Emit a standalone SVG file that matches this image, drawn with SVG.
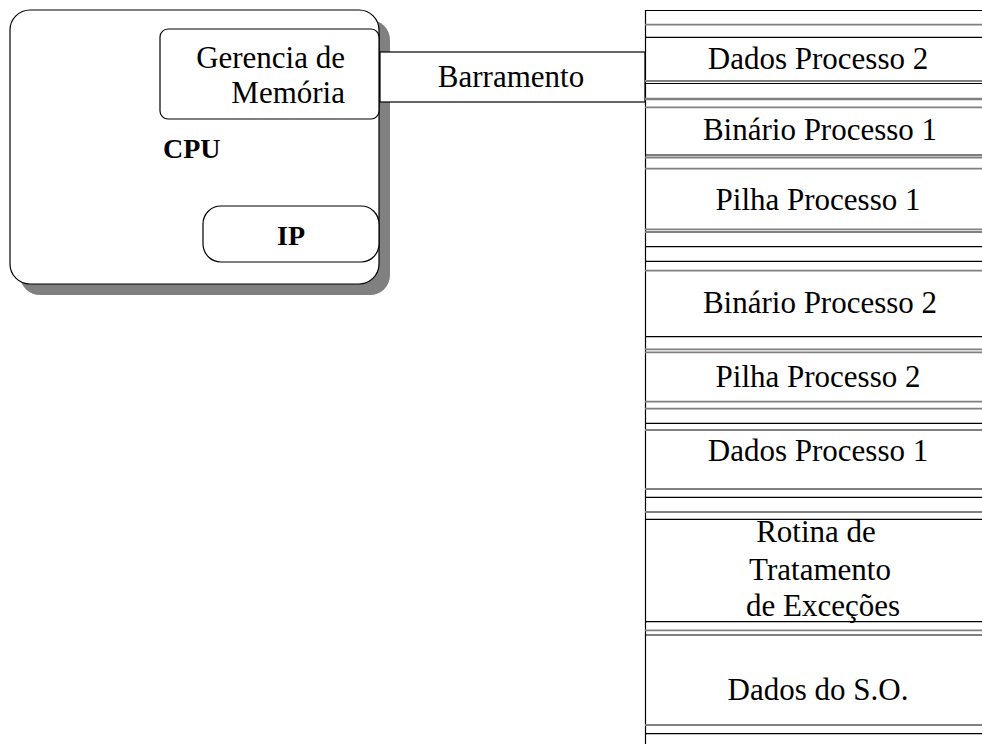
<svg xmlns="http://www.w3.org/2000/svg" width="982" height="744" viewBox="0 0 982 744">
<style>
text{font-family:"Liberation Serif","Times New Roman",serif;font-size:31px;fill:#000}
.b{font-weight:bold;font-size:28px}
.box{fill:#fff;stroke:#000;stroke-width:1.2}
.k{stroke:#000;stroke-width:1.2}
.g{stroke:#808080;stroke-width:1.8}
</style>
<rect width="982" height="744" fill="#fff"/>
<g id="cpu">
<rect x="20" y="20" width="370" height="275" rx="20" fill="#808080"/>
<rect class="box" x="10" y="10" width="369" height="274" rx="20"/>
<text class="b" x="163" y="158">CPU</text>
</g>
<g id="gerencia">
<rect class="box" x="160" y="29" width="219" height="90" rx="8"/>
<text x="345" y="68" text-anchor="end">Gerencia de</text>
<text x="345" y="103" text-anchor="end">Memória</text>
</g>
<g id="ip">
<rect class="box" x="203" y="206" width="176" height="56" rx="18"/>
<text class="b" x="291" y="245" text-anchor="middle">IP</text>
</g>
<g id="connectors">
<g id="barramento">
<rect class="box" x="380" y="52" width="265" height="50"/>
<text x="511" y="87" text-anchor="middle">Barramento</text>
</g>
</g>
<g id="memoria">
<line class="k" x1="645.5" y1="10" x2="645.5" y2="744"/>
<g>
<line class="k" x1="645" y1="10.5" x2="982" y2="10.5"/>
<line class="g" x1="645" y1="24.7" x2="982" y2="24.7"/>
<line class="k" x1="645" y1="37.3" x2="982" y2="37.3"/>
<line class="g" x1="645" y1="81" x2="982" y2="81"/>
<line class="k" x1="645" y1="83.5" x2="982" y2="83.5"/>
<line class="g" x1="645" y1="99" x2="982" y2="99" style="stroke-width:2.4"/>
<line class="g" x1="645" y1="107.3" x2="982" y2="107.3"/>
<line class="k" x1="645" y1="155" x2="982" y2="155"/>
<line class="g" x1="645" y1="157.5" x2="982" y2="157.5"/>
<line class="g" x1="645" y1="168.7" x2="982" y2="168.7"/>
<line class="g" x1="645" y1="229.3" x2="982" y2="229.3"/>
<line class="g" x1="645" y1="232" x2="982" y2="232"/>
<line class="k" x1="645" y1="246.7" x2="982" y2="246.7"/>
<line class="k" x1="645" y1="261.3" x2="982" y2="261.3"/>
<line class="g" x1="645" y1="270.7" x2="982" y2="270.7"/>
<line class="k" x1="645" y1="336.7" x2="982" y2="336.7"/>
<line class="g" x1="645" y1="349.3" x2="982" y2="349.3"/>
<line class="g" x1="645" y1="352.3" x2="982" y2="352.3"/>
<line class="g" x1="645" y1="401.7" x2="982" y2="401.7"/>
<line class="g" x1="645" y1="408.7" x2="982" y2="408.7"/>
<line class="k" x1="645" y1="423.3" x2="982" y2="423.3"/>
<line class="g" x1="645" y1="430" x2="982" y2="430"/>
<line class="g" x1="645" y1="489" x2="982" y2="489"/>
<line class="k" x1="645" y1="497.3" x2="982" y2="497.3"/>
<line class="g" x1="645" y1="512" x2="982" y2="512"/>
<line class="k" x1="645" y1="519.3" x2="982" y2="519.3"/>
<line class="k" x1="645" y1="621.7" x2="982" y2="621.7"/>
<line class="g" x1="645" y1="630.3" x2="982" y2="630.3"/>
<line class="k" x1="645" y1="635" x2="982" y2="635"/>
<line class="g" x1="645" y1="725" x2="982" y2="725"/>
<line class="k" x1="645" y1="733.7" x2="982" y2="733.7"/>
</g>
<text x="818" y="69" text-anchor="middle">Dados Processo 2</text>
<text x="820" y="140" text-anchor="middle">Binário Processo 1</text>
<text x="818" y="210" text-anchor="middle">Pilha Processo 1</text>
<text x="820" y="313" text-anchor="middle">Binário Processo 2</text>
<text x="818" y="387" text-anchor="middle">Pilha Processo 2</text>
<text x="818" y="461" text-anchor="middle">Dados Processo 1</text>
<text x="816" y="542" text-anchor="middle">Rotina de</text>
<text x="820" y="580" text-anchor="middle">Tratamento</text>
<text x="823" y="616" text-anchor="middle">de Exceções</text>
<text x="818" y="700" text-anchor="middle">Dados do S.O.</text>
</g>
</svg>
